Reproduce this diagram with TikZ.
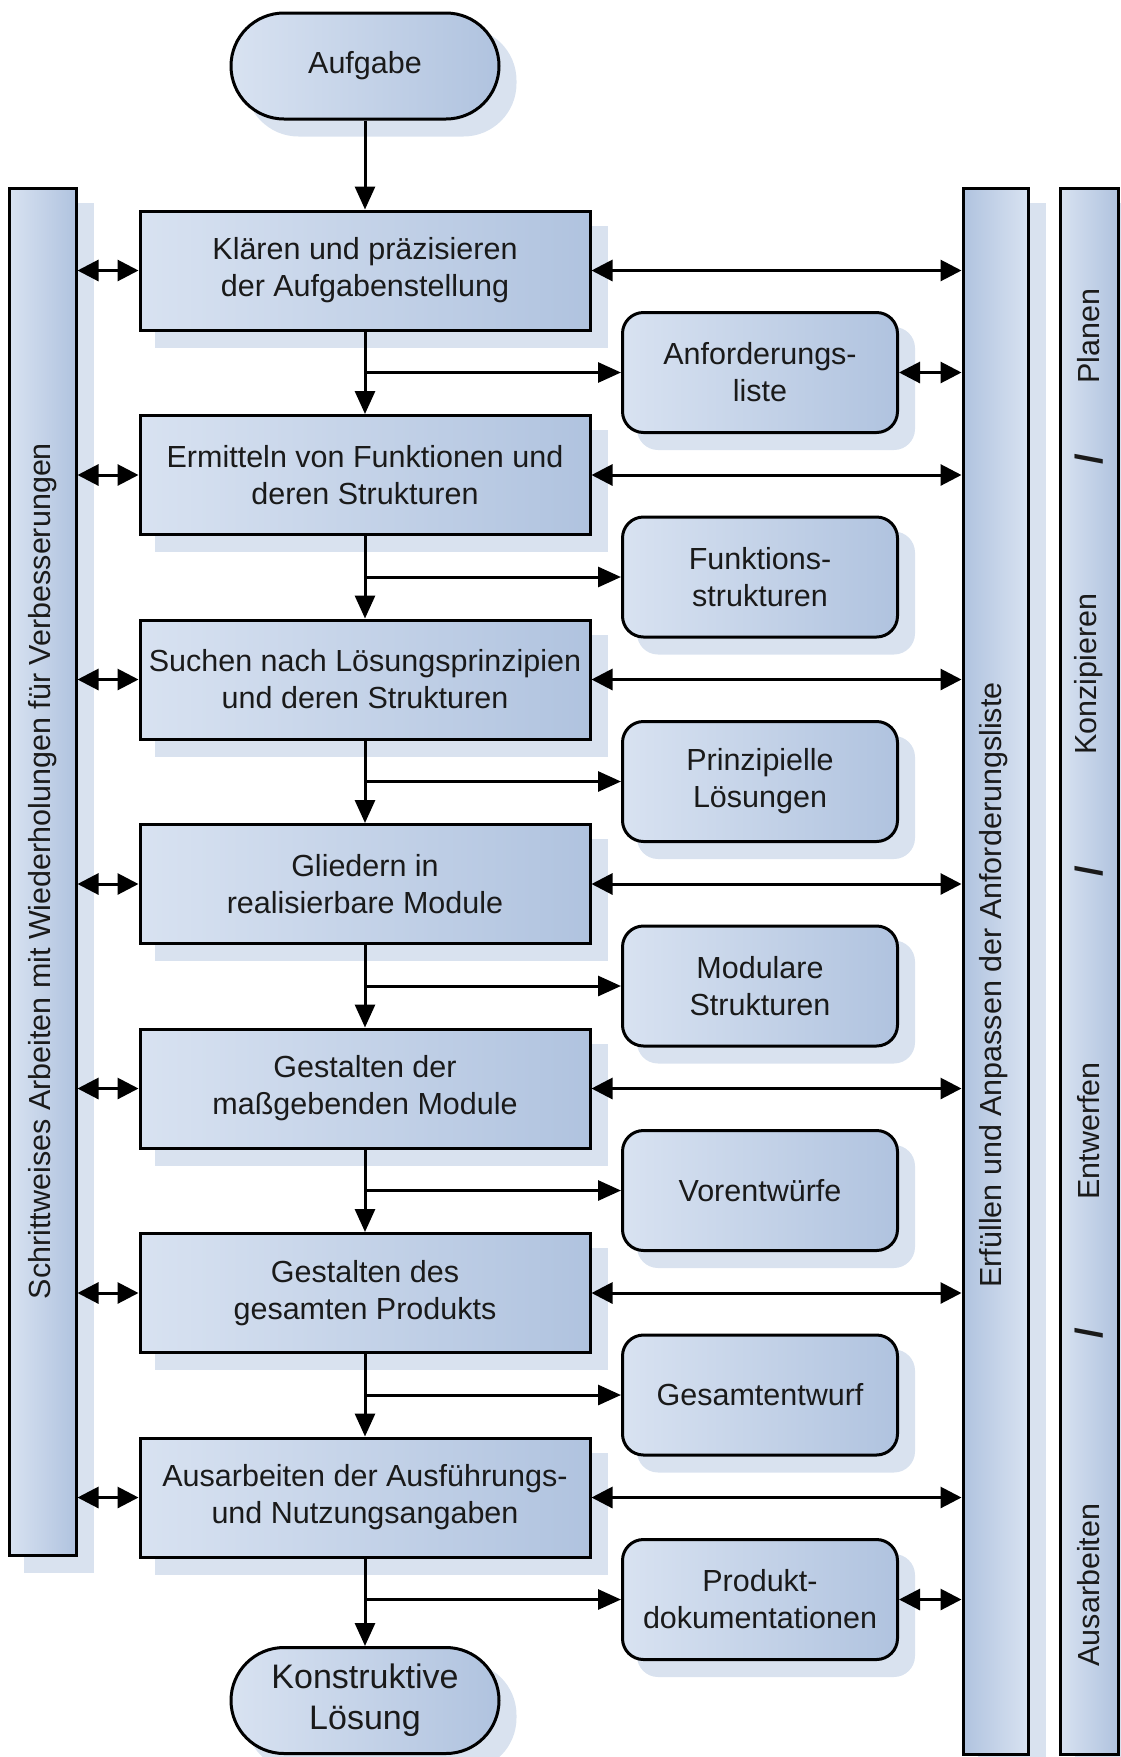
\documentclass[tikz,border=0pt]{standalone}
\usepackage{fontspec}
\setmainfont{Liberation Sans}
\usetikzlibrary{arrows.meta,backgrounds,calc}
\definecolor{boxlight}{HTML}{D8E2F1}
\definecolor{boxdark}{HTML}{B0C3DF}
\definecolor{shadowcol}{HTML}{D9E2EF}
\definecolor{txt}{HTML}{1A1A1A}
\begin{document}
\begin{tikzpicture}[x=0.5pt,y=-0.5pt,
  base/.style={draw=black, line width=1.5pt, left color=boxlight, right color=boxdark,
    text=txt, font=\fontsize{15.25}{18.5}\selectfont, align=center, inner sep=0pt},
  mainbox/.style={base, rectangle, minimum width=225pt, minimum height=59.5pt},
  sidebox/.style={base, rectangle, rounded corners=10.5pt, minimum width=137.5pt, minimum height=60pt},
  term/.style={base, rectangle, rounded corners=26.5pt, minimum width=134pt, minimum height=53pt},
  barbox/.style={base, rectangle, inner sep=0pt},
  bartext/.style={rotate=90, text=txt, font=\fontsize{15.25}{18.5}\selectfont, inner sep=0pt},
  conn/.style={line width=1.5pt, draw=black},
  arr/.style={conn, -{Triangle[length=11.5pt,width=10pt]}},
  dbl/.style={conn, {Triangle[length=10.5pt,width=10.5pt]}-{Triangle[length=10.5pt,width=10.5pt]}}
]
\useasboundingbox (0,0) rectangle (1120,1757);

% terminals
\node[term] (auf) at (365,66) {Aufgabe};
\node[term, font=\fontsize{17}{20.5}\selectfont] (kon) at (365,1700.5) {Konstruktive\\Lösung};

% main boxes
\node[mainbox] (b1) at (365,270.5)  {Klären und präzisieren\\der Aufgabenstellung};
\node[mainbox] (b2) at (365,475)    {Ermitteln von Funktionen und\\deren Strukturen};
\node[mainbox] (b3) at (365,679.5)  {Suchen nach Lösungsprinzipien\\und deren Strukturen};
\node[mainbox] (b4) at (365,884)    {Gliedern in\\realisierbare Module};
\node[mainbox] (b5) at (365,1088.5) {Gestalten der\\maßgebenden Module};
\node[mainbox] (b6) at (365,1293)   {Gestalten des\\gesamten Produkts};
\node[mainbox] (b7) at (365,1497.5) {Ausarbeiten der Ausführungs-\\und Nutzungsangaben};

% side boxes
\node[sidebox] (s1) at (760,372.5)  {Anforderungs-\\liste};
\node[sidebox] (s2) at (760,577)    {Funktions-\\strukturen};
\node[sidebox] (s3) at (760,781.5)  {Prinzipielle\\Lösungen};
\node[sidebox] (s4) at (760,986)    {Modulare\\Strukturen};
\node[sidebox] (s5) at (760,1190.5) {Vorentwürfe};
\node[sidebox] (s6) at (760,1395)   {Gesamtentwurf};
\node[sidebox] (s7) at (760,1599.5) {Produkt-\\dokumentationen};

% bars
\node[barbox, minimum width=33.5pt, minimum height=683.5pt] (L) at (42.5,871.5) {};
\node[barbox, left color=boxdark, right color=boxlight, minimum width=32.5pt, minimum height=783pt] (R1) at (995.5,971) {};
\node[barbox, minimum width=29pt, minimum height=783pt] (R2) at (1089,971) {};

\node[bartext] (Lt) at (43,871) {Schrittweises Arbeiten mit Wiederholungen für Verbesserungen};
\node[bartext] (R1t) at (994,985) {Erfüllen und Anpassen der Anforderungsliste};
\node[bartext] (p1) at (1089,336) {Planen};
\node[bartext, font=\fontsize{19}{22}\selectfont\bfseries] (sl1) at (1089,459) {/};
\node[bartext] (p2) at (1089,674) {Konzipieren};
\node[bartext, font=\fontsize{19}{22}\selectfont\bfseries] (sl2) at (1089,871) {/};
\node[bartext] (p3) at (1089,1131) {Entwerfen};
\node[bartext, font=\fontsize{19}{22}\selectfont\bfseries] (sl3) at (1089,1333) {/};
\node[bartext] (p4) at (1089,1585) {Ausarbeiten};

% shadows
\begin{scope}[on background layer]
  \foreach \n in {b1,b2,b3,b4,b5,b6,b7,L,R1,R2}
    \fill[shadowcol] ($(\n.south west)+(8pt,-8pt)$) rectangle ($(\n.north east)+(8pt,-8pt)$);
  \foreach \n in {s1,s2,s3,s4,s5,s6,s7}
    \fill[shadowcol, rounded corners=10.5pt] ($(\n.south west)+(8pt,-8pt)$) rectangle ($(\n.north east)+(8pt,-8pt)$);
  \foreach \n in {auf,kon}
    \fill[shadowcol, rounded corners=26.5pt] ($(\n.south west)+(8pt,-8pt)$) rectangle ($(\n.north east)+(8pt,-8pt)$);
\end{scope}

% main flow
\draw[arr] (auf) -- (b1);
\draw[arr] (b1) -- (b2);
\draw[arr] (b2) -- (b3);
\draw[arr] (b3) -- (b4);
\draw[arr] (b4) -- (b5);
\draw[arr] (b5) -- (b6);
\draw[arr] (b6) -- (b7);
\draw[arr] (b7) -- (kon);

% branches to results
\foreach \k in {1,...,7} {
  \coordinate (j\k) at (b\k.south |- s\k.west);
  \draw[arr] (j\k) -- (s\k.west);
}

% links to the side bars
\foreach \k in {1,...,7} {
  \draw[dbl] (L.east |- b\k.west) -- (b\k.west);
  \draw[dbl] (b\k.east) -- (R1.west |- b\k.east);
}

% requirement list links
\draw[dbl] (s1.east) -- (R1.west |- s1.east);
\draw[dbl] (s7.east) -- (R1.west |- s7.east);
\end{tikzpicture}
\end{document}
